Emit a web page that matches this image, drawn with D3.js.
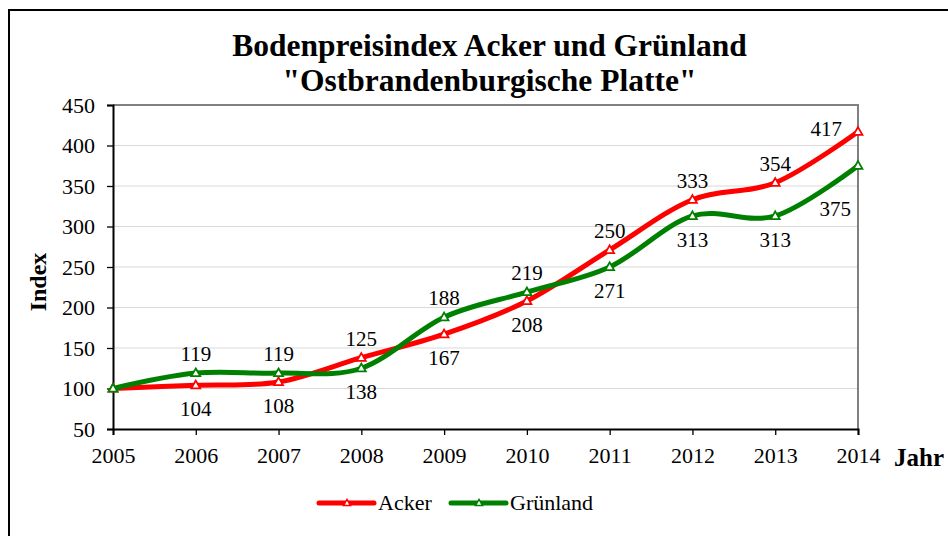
<!DOCTYPE html>
<html>
<head>
<meta charset="utf-8">
<script src="https://cdn.jsdelivr.net/npm/d3@7"></script>
<style>
  body { margin: 0; background: #fff; }
  svg { display: block; font-family: "Liberation Serif", "Times New Roman", serif; }
  .tick text { fill: #000; }
</style>
</head>
<body>
<script>
// data
var years = [2005, 2006, 2007, 2008, 2009, 2010, 2011, 2012, 2013, 2014];
var acker = [100, 104, 108, 138, 167, 208, 271, 333, 354, 417];
var gruenland = [100, 119, 119, 125, 188, 219, 250, 313, 313, 375];
// data labels as printed in the original (upper / lower label per year, from 2006)
var upperLabels = ["119", "119", "125", "188", "219", "250", "333", "354", "417"];
var lowerLabels = ["104", "108", "138", "167", "208", "271", "313", "313", "375"];
var yTicks = [50, 100, 150, 200, 250, 300, 350, 400, 450];
var seriesNames = ["Acker", "Grünland"];

const W = 948, H = 536;
const PLOT = { left: 113, right: 858, top: 105, bottom: 429 };
const COLORS = { Acker: "#ff0000", "Grünland": "#008000" };

var svg = d3.select("body").append("svg")
    .attr("width", W)
    .attr("height", H);

// outer frame (runs off the right / bottom edge)
svg.append("rect")
    .attr("x", 9).attr("y", 10)
    .attr("width", 980).attr("height", 600)
    .attr("fill", "#fff")
    .attr("stroke", "#000")
    .attr("stroke-width", 2);

var x = d3.scaleLinear().domain([2005, 2014]).range([PLOT.left, PLOT.right]);
var y = d3.scaleLinear().domain([50, 450]).range([PLOT.bottom, PLOT.top]);

// gridlines
svg.append("g")
    .selectAll("line")
    .data(yTicks.slice(1, -1))
    .enter().append("line")
    .attr("x1", PLOT.left).attr("x2", PLOT.right)
    .attr("y1", function(d) { return y(d); })
    .attr("y2", function(d) { return y(d); })
    .attr("stroke", "#d9d9d9")
    .attr("stroke-width", 1);

// grey top / right border of plot area
svg.append("path")
    .attr("d", "M" + PLOT.left + "," + y(450) + "H" + x(2014) + "V" + PLOT.bottom)
    .attr("fill", "none")
    .attr("stroke", "#808080")
    .attr("stroke-width", 2);

// axes
var axisY = d3.axisLeft(y).tickValues(yTicks).tickSize(6).tickPadding(12);
var axisX = d3.axisBottom(x).tickValues(years).tickFormat(d3.format("d")).tickSize(6).tickPadding(12);

var gy = svg.append("g")
    .attr("transform", "translate(" + PLOT.left + ",0)")
    .call(axisY);
var gx = svg.append("g")
    .attr("transform", "translate(0," + PLOT.bottom + ")")
    .call(axisX);

[gx, gy].forEach(function(g) {
    g.selectAll("text").attr("font-size", 22).attr("font-family", "Liberation Serif, Times New Roman, serif");
    g.select(".domain").attr("stroke", "#000").attr("stroke-width", 2);
    g.selectAll(".tick line").attr("stroke", "#000").attr("stroke-width", 1.3);
});

// lines
var line = d3.line()
    .x(function(d) { return x(d.year); })
    .y(function(d) { return y(d.value); })
    .curve(d3.curveCardinal.tension(0));

var series = [
    { name: "Acker", values: acker },
    { name: "Grünland", values: gruenland }
];

var tri = d3.symbol().type(d3.symbolTriangle).size(34);

series.forEach(function(s) {
    var pts = years.map(function(yr, i) { return { year: yr, value: s.values[i] }; });
    var g = svg.append("g");
    g.append("path")
        .datum(pts)
        .attr("d", line)
        .attr("fill", "none")
        .attr("stroke", COLORS[s.name])
        .attr("stroke-width", 5)
        .attr("stroke-linejoin", "round");
    g.selectAll("path.marker")
        .data(pts)
        .enter().append("path")
        .attr("class", "marker")
        .attr("d", tri)
        .attr("transform", function(d) { return "translate(" + x(d.year) + "," + (y(d.value) + 0.5) + ")"; })
        .attr("fill", "#fff")
        .attr("stroke", COLORS[s.name])
        .attr("stroke-width", 1.8);
});

// data labels
var labelG = svg.append("g")
    .attr("font-size", 21)
    .attr("fill", "#000");

years.slice(1).forEach(function(yr, j) {
    var i = j + 1;
    var hi = y(Math.max(acker[i], gruenland[i]));
    var lo = y(Math.min(acker[i], gruenland[i]));
    var last = i === years.length - 1;
    labelG.append("text")
        .attr("x", last ? x(yr) - 16 : x(yr))
        .attr("y", last ? hi + 4 : hi - 12)
        .attr("text-anchor", last ? "end" : "middle")
        .text(upperLabels[j]);
    labelG.append("text")
        .attr("x", last ? x(yr) - 7 : x(yr))
        .attr("y", last ? lo + 50 : lo + 31)
        .attr("text-anchor", last ? "end" : "middle")
        .text(lowerLabels[j]);
});

// title
var title = svg.append("text")
    .attr("text-anchor", "middle")
    .attr("font-weight", "bold")
    .attr("font-size", 31.5);
title.append("tspan").attr("x", 489.5).attr("y", 56).text("Bodenpreisindex Acker und Grünland");
title.append("tspan").attr("x", 489.5).attr("y", 91).text("\"Ostbrandenburgische Platte\"");

// axis titles
svg.append("text")
    .attr("transform", "translate(46,282) rotate(-90)")
    .attr("text-anchor", "middle")
    .attr("font-weight", "bold")
    .attr("font-size", 24)
    .text("Index");

svg.append("text")
    .attr("x", 894).attr("y", 466)
    .attr("font-weight", "bold")
    .attr("font-size", 25)
    .text("Jahr");

// legend
var legendX = [319, 451];
var legend = svg.append("g");
seriesNames.forEach(function(name, i) {
    var lg = legend.append("g").attr("transform", "translate(" + legendX[i] + ",503)");
    lg.append("line")
        .attr("x1", 0).attr("x2", 55)
        .attr("stroke", COLORS[name])
        .attr("stroke-width", 5)
        .attr("stroke-linecap", "round");
    lg.append("path")
        .attr("d", d3.symbol().type(d3.symbolTriangle).size(22))
        .attr("transform", "translate(28,0.5)")
        .attr("fill", "#fff")
        .attr("stroke", COLORS[name])
        .attr("stroke-width", 1.5);
    lg.append("text")
        .attr("x", 59).attr("y", 7)
        .attr("font-size", 22)
        .text(name);
});
</script>
</body>
</html>
